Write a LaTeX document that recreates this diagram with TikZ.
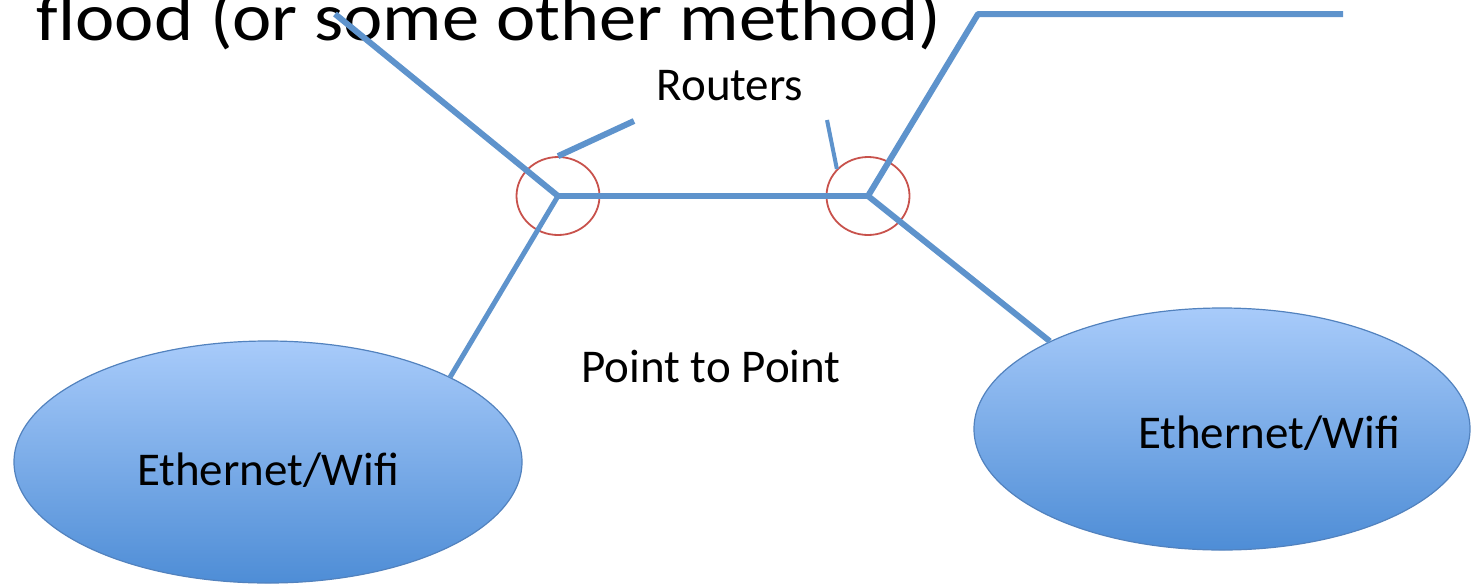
\documentclass[tikz,border=0pt]{standalone}
\usepackage{fontspec}
\setmainfont{Carlito}
\usetikzlibrary{shapes.geometric}
\definecolor{linkblue}{RGB}{94,147,204}
\definecolor{ringred}{RGB}{200,82,76}
\definecolor{nettop}{RGB}{168,203,250}
\definecolor{netbottom}{RGB}{78,141,214}
\definecolor{netedge}{RGB}{82,130,190}

\begin{document}
\begin{tikzpicture}[x = 1pt, y = -1pt]
	\tikzstyle{routerStyle} = [shape = ellipse, minimum width = 83pt, minimum height = 78pt, inner sep = 0pt, draw = ringred, line width = 1.8pt]
	\tikzstyle{netStyle} = [shape = ellipse, inner sep = 0pt, draw = netedge, line width = 1.2pt, top color = nettop, bottom color = netbottom]
	\tikzstyle{linkStyle} = [draw = linkblue, line width = 6pt, line join = bevel]
	\tikzstyle{labelStyle} = [inner sep = 0pt, anchor = base, font = \fontsize{47}{56}\selectfont]
	\useasboundingbox (0, 0) rectangle (1471, 584);
	\node[inner sep = 0pt, anchor = base west, xscale = 1.095, font = \fontsize{68}{80}\selectfont] (title) at (36, 40) {flood (or some other method)};
	\node[netStyle, minimum width = 508pt, minimum height = 242pt] (netL) at (268, 462) {};
	\node[netStyle, minimum width = 496pt, minimum height = 242pt] (netR) at (1222, 429) {};
	\node[routerStyle] (rL) at (558, 196) {};
	\node[routerStyle] (rR) at (868, 196) {};
	\node[labelStyle] (routers) at (730, 100) {Routers};
	\node[labelStyle] (p2p) at (711, 382) {Point to Point};
	\node[labelStyle] (ethL) at (268, 485) {Ethernet/Wifi};
	\node[labelStyle] (ethR) at (1269, 448) {Ethernet/Wifi};
	\coordinate (topL) at (335, 14);
	\coordinate (topR) at (978, 14);
	\coordinate (topEnd) at (1343, 14);
	\coordinate (tipL) at (634, 121);
	\coordinate (tipR) at (827, 120);
	\draw[linkStyle] (rL.center) -- (rR.center);
	\draw[linkStyle] (rL.center) -- (topL);
	\draw[linkStyle, line width = 5pt] (rL.center) -- (netL.25.5);
	\draw[linkStyle] (rR.center) -- (topR) -- (topEnd);
	\draw[linkStyle] (rR.center) -- (netR.153.7);
	\draw[linkStyle] (tipL) -- (rL.north);
	\draw[linkStyle, line width = 4pt] (tipR) -- (rR.139);
\end{tikzpicture}
\end{document}
